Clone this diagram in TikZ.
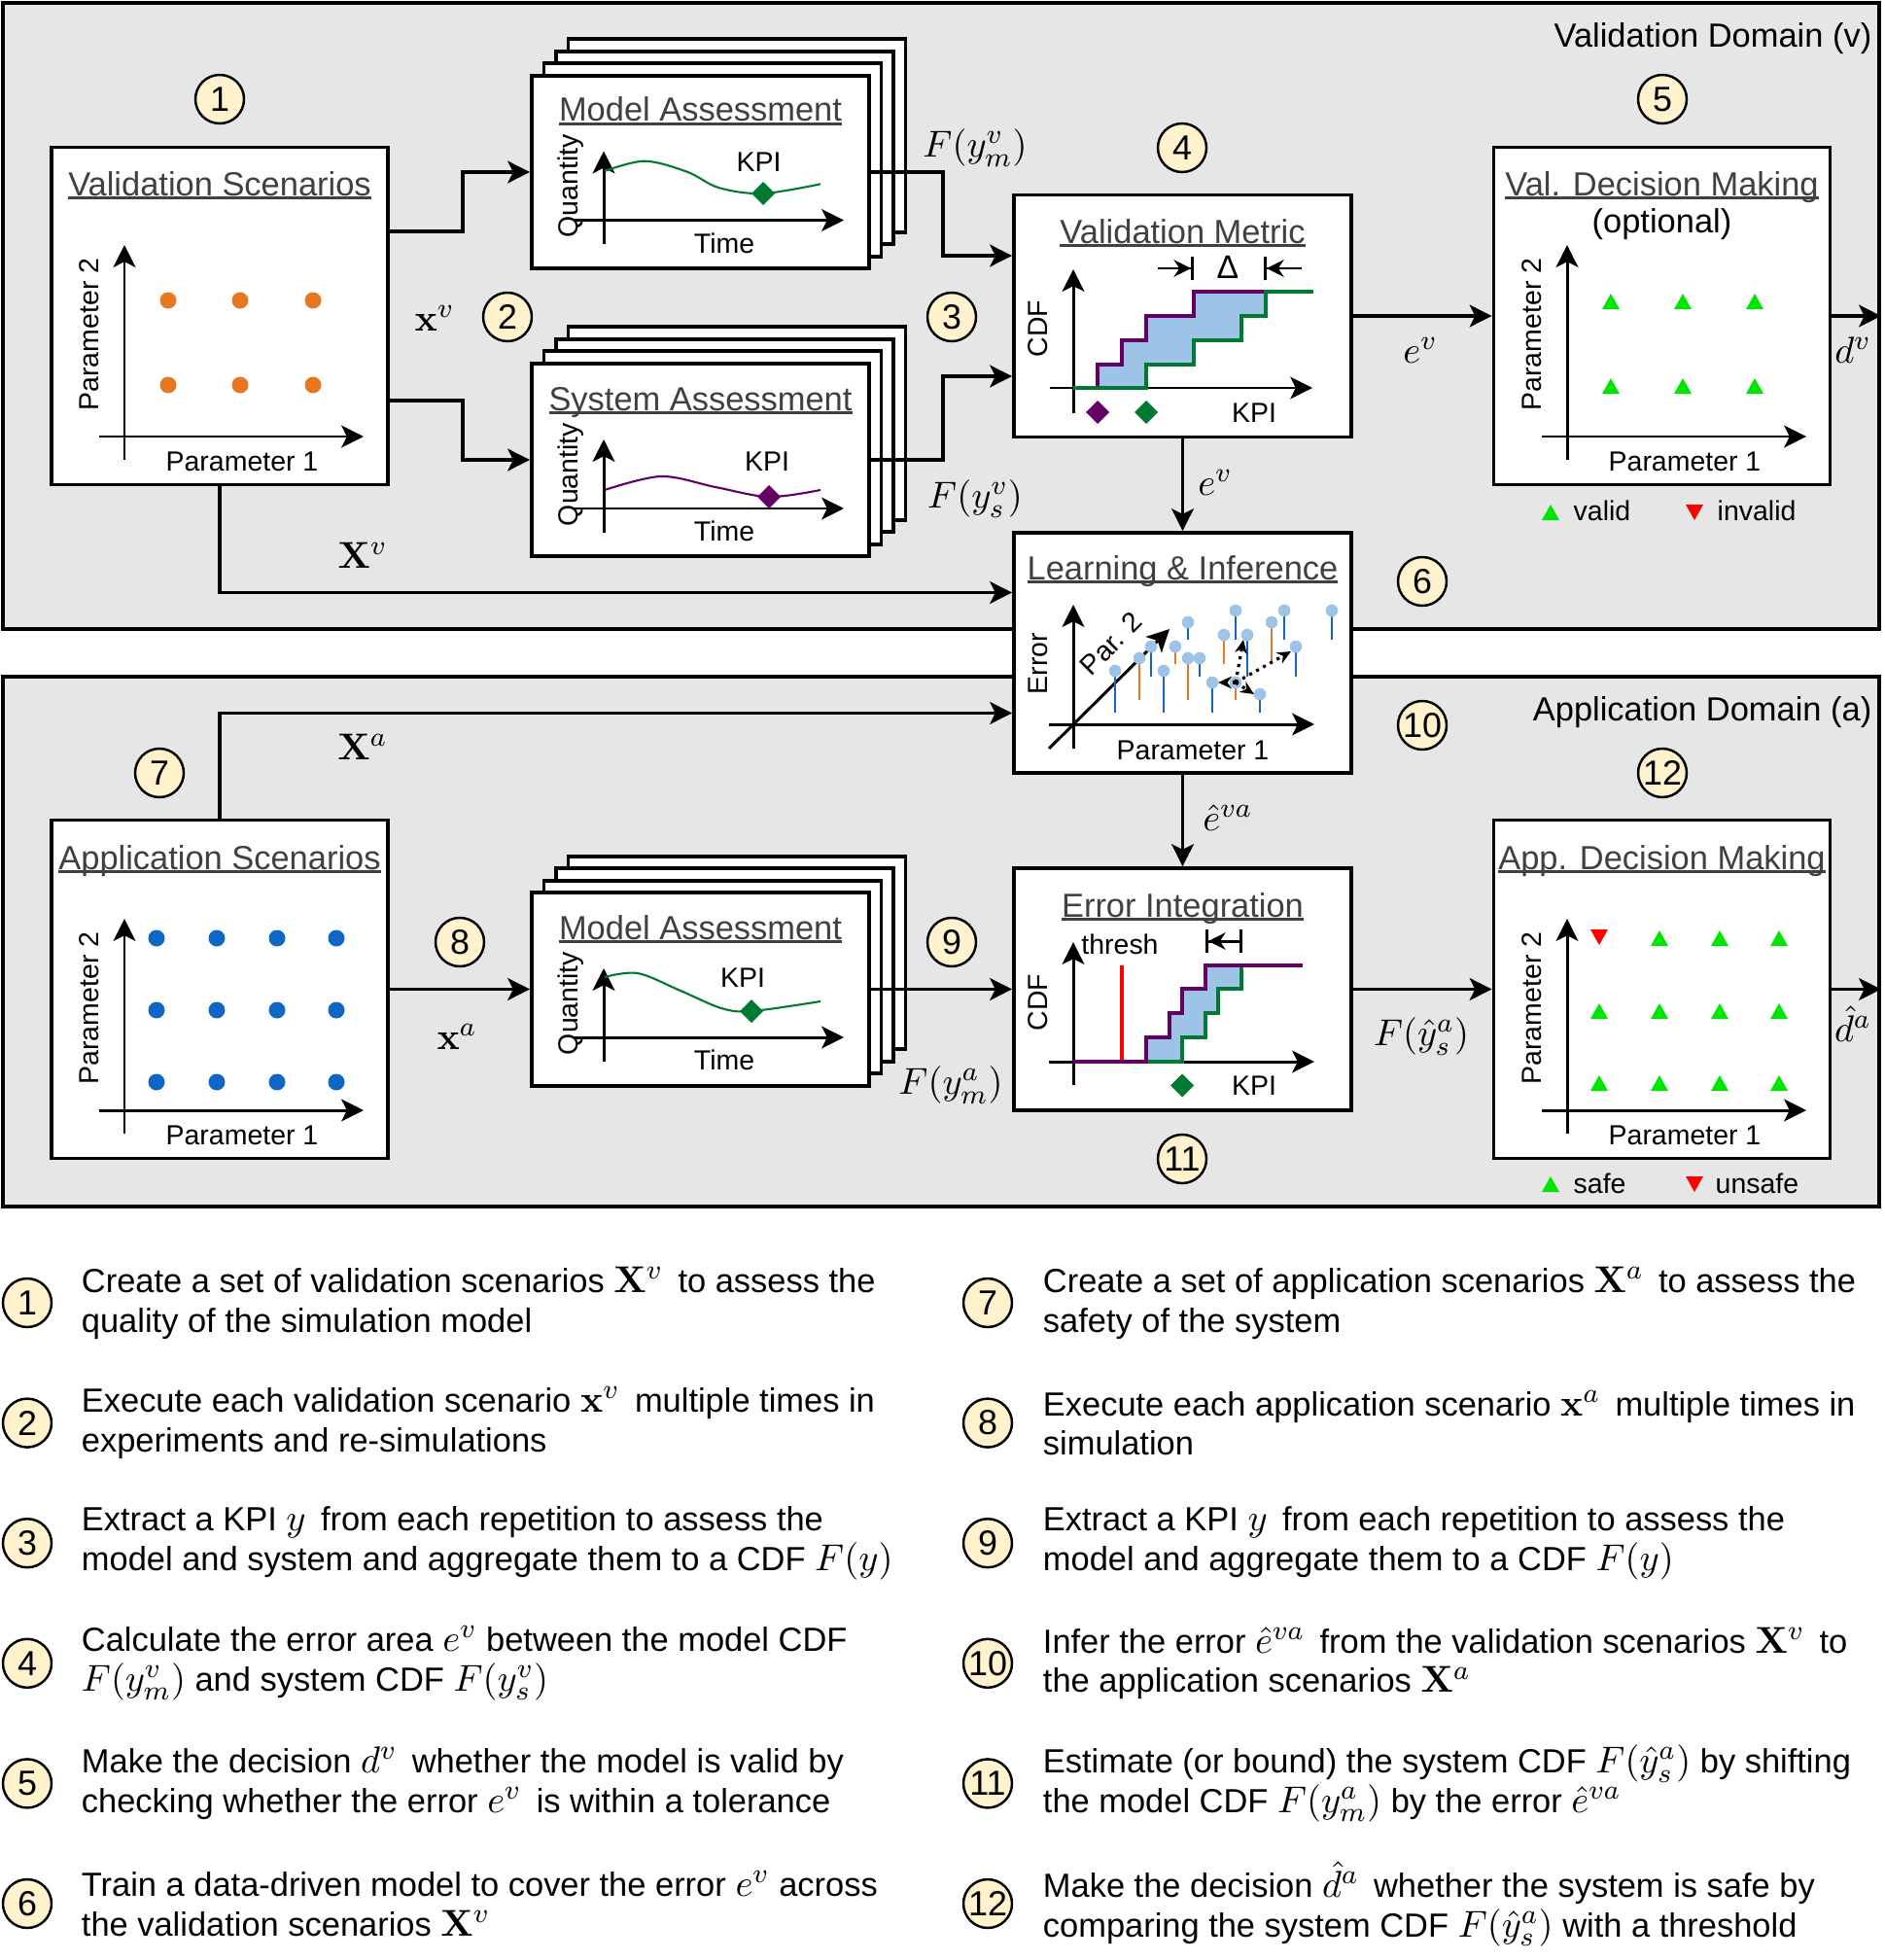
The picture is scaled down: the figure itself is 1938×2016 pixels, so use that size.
\documentclass[tikz,border=0pt]{standalone}
\usepackage[no-math]{fontspec}
\setmainfont{Liberation Sans}
\usepackage{amsmath}
\usetikzlibrary{positioning, arrows.meta}

\definecolor{domaingray}{HTML}{E6E6E6}
\definecolor{numyellow}{HTML}{FFF2CC}
\definecolor{titlegray}{HTML}{404040}
\definecolor{kpigreen}{HTML}{007A33}
\definecolor{kpipurple}{HTML}{640064}
\definecolor{areablue}{HTML}{9DC3E6}
\definecolor{dotorange}{HTML}{E87722}
\definecolor{dotblue}{HTML}{0F67C5}
\definecolor{stemblue}{HTML}{1565C0}
\definecolor{trigreen}{HTML}{00E600}
\definecolor{trired}{HTML}{FF0000}

\newcommand{\titlefont}{\fontsize{9.8}{11.8}\selectfont}
\newcommand{\smallfont}{\fontsize{8.1}{9.7}\selectfont}
\newcommand{\numfont}{\fontsize{10.2}{12}\selectfont}
\newcommand{\labelfont}{\fontsize{11.4}{13.7}\selectfont}
\newcommand{\legendfont}{\fontsize{9.8}{11.6}\selectfont}
\newcommand{\lgm}[1]{{\fontsize{10.8}{11.6}\selectfont$#1$}}
\newcommand{\titleline}[1]{\setbox0\hbox{#1}\rlap{\copy0}\rule[-1.1pt]{\wd0}{0.9pt}}

\begin{document}
\begin{tikzpicture}[x=0.1mm, y=-0.1mm,
    > = {Stealth[length=6.5pt, width=6.5pt, inset=1.6pt]},
    box/.style = {draw, fill=white, line width=1.1pt, inner sep=0pt},
    domainbox/.style = {draw, fill=domaingray, line width=1.1pt, inner sep=0pt},
    num/.style = {draw, circle, fill=numyellow, line width=0.7pt,
        minimum size=5mm, inner sep=0pt, font=\numfont},
    boxtitle/.style = {anchor=base, inner sep=0pt, font=\titlefont, text=titlegray},
    lbl/.style = {inner sep=0pt, font=\smallfont},
    sym/.style = {inner sep=0pt, font=\labelfont},
    legendtext/.style = {inner sep=0pt, align=left, font=\legendfont},
    axisline/.style = {line width=0.85pt, ->},
    flow/.style = {line width=0.9pt, ->},
    kpicurve/.style = {line width=0.6pt},
    stairs/.style = {line width=0.95pt},
    delta/.style = {line width=0.85pt}
]
    \useasboundingbox (0,0) rectangle (1938,2016);

    % domains
    \node [domainbox, minimum width=193mm, minimum height=64.4mm] (valdom) at (968,325) {};
    \node [domainbox, minimum width=193mm, minimum height=54.5mm] (appdom) at (968,968.5) {};
    \node [anchor=east, inner sep=0pt, font=\titlefont] (valdomtext) at (1926,40) {Validation Domain (v)};
    \node [anchor=east, inner sep=0pt, font=\titlefont] (appdomtext) at (1926,733) {Application Domain (a)};

    % boxes
    \node [box, minimum width=34.6mm, minimum height=34.7mm] (vs) at (226,325) {};
    \node [box, minimum width=34.6mm, minimum height=34.7mm] (vd) at (1709.5,325) {};
    \node [box, minimum width=34.6mm, minimum height=34.8mm] (as) at (226,1017.5) {};
    \node [box, minimum width=34.6mm, minimum height=34.8mm] (ad) at (1709.5,1017.5) {};
    \node [box, minimum width=34.7mm, minimum height=24.9mm] (vm) at (1216.5,325) {};
    \node [box, minimum width=34.7mm, minimum height=24.7mm] (li) at (1216.5,671.5) {};
    \node [box, minimum width=34.7mm, minimum height=24.9mm] (ei) at (1216.5,1017.5) {};
    \foreach \cx/\cy/\nm in {720.5/177/ma, 720.5/473/sa, 720.5/1017.5/mb} {
        \foreach \k in {3,2,1}
            \draw [box] (\cx-173.5+12.5*\k, \cy-99.25-12.5*\k) rectangle ++(347,198.5);
        \node [box, minimum width=34.7mm, minimum height=19.85mm] (\nm) at (\cx,\cy) {};
    }

    % titles
    \node [boxtitle] (vstitle) at (226,201) {\titleline{Validation Scenarios}};
    \node [boxtitle] (astitle) at (226,894) {\titleline{Application Scenarios}};
    \node [boxtitle] (vdtitle) at (1709.5,201) {\titleline{Val. Decision Making}};
    \node [inner sep=0pt, font=\titlefont] (vdoptional) at (1709.5,231) {(optional)};
    \node [boxtitle] (adtitle) at (1709.5,894) {\titleline{App. Decision Making}};
    \node [boxtitle] (vmtitle) at (1216.5,250) {\titleline{Validation Metric}};
    \node [boxtitle] (lititle) at (1216.5,596) {\titleline{Learning \& Inference}};
    \node [boxtitle] (eititle) at (1216.5,943) {\titleline{Error Integration}};
    \node [boxtitle] (matitle) at (720.5,125) {\titleline{Model Assessment}};
    \node [boxtitle] (satitle) at (720.5,422) {\titleline{System Assessment}};
    \node [boxtitle] (mbtitle) at (720.5,966) {\titleline{Model Assessment}};

    % scenario and decision plots
    \foreach \bx/\by/\nm in {53/151/vs, 1537/151/vd, 53/844/as, 1537/844/ad} {
        \begin{scope}[shift={(\bx,\by)}]
            \draw [axisline] (75,322) -- (75,101);
            \draw [axisline] (49,298) -- (321,298);
            \node [lbl, rotate=90] (\nm-par2) at (39,193) {Parameter 2};
            \node [lbl] (\nm-par1) at (196,324) {Parameter 1};
        \end{scope}
    }
    \foreach \px in {120,194,269}
        \foreach \py in {158,245}
            \fill [dotorange] (53+\px,151+\py) circle [radius=8.5];
    \foreach \px in {108,170,232,293}
        \foreach \py in {121,195,269}
            \fill [dotblue] (53+\px,844+\py) circle [radius=8.5];
    \foreach \px in {120,194,268}
        \foreach \py in {159,246}
            \fill [trigreen] (1537+\px-9,151+\py+8) -- ++(18,0) -- ++(-9,-16) -- cycle;
    \foreach \px/\py in {170/121, 232/121, 293/121, 108/196, 170/196, 232/196,
                         293/196, 108/270, 170/270, 232/270, 293/270}
        \fill [trigreen] (1537+\px-9,844+\py+8) -- ++(18,0) -- ++(-9,-16) -- cycle;
    \fill [trired] (1537+108-9,844+120-8) -- ++(18,0) -- ++(-9,16) -- cycle;

    % legends of the decisions
    \fill [trigreen] (1595-9,527+8) -- ++(18,0) -- ++(-9,-16) -- cycle;
    \node [lbl, anchor=west] (validtext) at (1618,525) {valid};
    \fill [trired] (1743-9,527-8) -- ++(18,0) -- ++(-9,16) -- cycle;
    \node [lbl, anchor=west] (invalidtext) at (1766,525) {invalid};
    \fill [trigreen] (1595-9,1218+8) -- ++(18,0) -- ++(-9,-16) -- cycle;
    \node [lbl, anchor=west] (safetext) at (1618,1217) {safe};
    \fill [trired] (1743-9,1218-8) -- ++(18,0) -- ++(-9,16) -- cycle;
    \node [lbl, anchor=west] (unsafetext) at (1764,1217) {unsafe};

    % assessment plots
    \foreach \ty/\nm in {77.5/ma, 374/sa, 918/mb} {
        \begin{scope}[shift={(547,\ty)}]
            \draw [axisline] (74,173.5) -- (74,78);
            \draw [axisline] (43,149) -- (321,149);
            \node [lbl, rotate=90] (\nm-qty) at (40,114) {Quantity};
            \node [lbl] (\nm-time) at (198,172.5) {Time};
        \end{scope}
    }
    \draw [kpigreen, kpicurve] plot [smooth, tension=0.55] coordinates
        {(622,176) (663,165.7) (706.7,176.7) (740,193.3) (785,199) (844,189.3)};
    \draw [kpipurple, kpicurve] plot [smooth, tension=0.55] coordinates
        {(622,504) (680,490) (736,501) (791,511) (844,504)};
    \draw [kpigreen, kpicurve] plot [smooth, tension=0.55] coordinates
        {(622,1005) (656,1001) (700,1019) (742,1037) (773,1040) (844,1030)};
    \node [lbl] (ma-kpi) at (780.5,166.5) {KPI};
    \node [lbl] (sa-kpi) at (789,475) {KPI};
    \node [lbl] (mb-kpi) at (764,1006) {KPI};

    % validation metric
    \draw [axisline] (1104,425) -- (1104,277);
    \draw [axisline] (1080,399) -- (1350,399);
    \node [lbl, rotate=90] (vm-cdf) at (1068,338) {CDF};
    \fill [areablue] (1129,399) |- (1154,375) |- (1179,350) |- (1228,325) |- (1302,300)
        -- (1302,325) -| (1277,350) -| (1228,375) -| (1179,399) -- cycle;
    \draw [kpipurple, stairs] (1129,399) |- (1154,375) |- (1179,350) |- (1228,325) |- (1302,300);
    \draw [kpigreen, stairs] (1104,399) -- (1179,399) |- (1228,375) |- (1277,350) |- (1302,325) |- (1351,300);
    \draw [delta, -{Stealth[length=5pt, width=5pt] Bar[width=7pt]}] (1191,276) -- (1228,276);
    \node [inner sep=0pt, font=\fontsize{9.6}{10}\selectfont] (vm-delta) at (1263,275) {Δ};
    \draw [delta, {Bar[width=7pt] Stealth[length=5pt, width=5pt]}-] (1300,276) -- (1339,276);
    \node [lbl] (vm-kpi) at (1290,425) {KPI};

    % learning and inference
    \draw [axisline] (1104,770) -- (1104,622);
    \draw [axisline] (1079,745) -- (1352,745);
    \draw [axisline] (1079,770) -- (1203,647);
    \node [lbl, rotate=90] (li-err) at (1067.5,682.5) {Error};
    \node [lbl, rotate=45] (li-par2) at (1143,662) {Par. 2};
    \node [lbl] (li-par1) at (1227,772) {Parameter 1};
    \foreach \sx/\sy/\sb/\sc in {
        1147/690/733/stemblue, 1172/677/720/dotorange, 1184/665/696/stemblue,
        1197/690/733/stemblue, 1209/665/683/dotorange, 1222/640/658/stemblue,
        1222/677/720/dotorange, 1234/677/696/stemblue, 1247/702/733/stemblue,
        1259/653/683/dotorange, 1271/628/658/stemblue, 1271/702/720/dotorange,
        1283/653/696/stemblue, 1296/714/733/stemblue, 1308/640/683/dotorange,
        1321/628/658/stemblue, 1333/665/696/stemblue, 1370/628/658/stemblue} {
        \draw [\sc, line width=0.75pt] (\sx,\sb) -- (\sx,\sy);
        \fill [areablue] (\sx,\sy) circle [radius=6.3];
    }
    \foreach \tx/\ty in {1279/658, 1328/670, 1253/702, 1290/714}
        \draw [line width=0.9pt, dash pattern=on 0.9pt off 1.4pt,
            -{Stealth[length=4pt, width=3.6pt]}] (1271,702) -- (\tx,\ty);

    % error integration
    \draw [axisline] (1104,1116) -- (1104,969);
    \draw [axisline] (1079,1092) -- (1352,1092);
    \node [lbl, rotate=90] (ei-cdf) at (1067.5,1031) {CDF};
    \node [lbl] (ei-thresh) at (1152,971) {thresh};
    \draw [delta, {Bar[width=7pt] Stealth[length=5pt, width=5pt]}-{Bar[width=7pt]}] (1240,968) -- (1278,968);
    \draw [trired, line width=0.95pt] (1154,993) -- (1154,1092);
    \fill [areablue] (1179,1092) |- (1203,1067) |- (1216,1042) |- (1240,1017) |- (1277,993)
        -- (1277,1017) -| (1253,1042) -| (1240,1067) -| (1216,1092) -- cycle;
    \draw [kpigreen, stairs] (1179,1092) -- (1216,1092) |- (1240,1067) |- (1253,1042) |- (1277,1017) -- (1277,993);
    \draw [kpipurple, stairs] (1104,1092) -- (1179,1092) |- (1203,1067) |- (1216,1042) |- (1240,1017) |- (1340,993);
    \node [lbl] (ei-kpi) at (1290,1116.5) {KPI};

    % diamonds
    \foreach \dx/\dy/\dc in {785/199/kpigreen, 791/511/kpipurple, 773/1040/kpigreen,
                             1129/424/kpipurple, 1179/424/kpigreen, 1216/1116.5/kpigreen}
        \fill [\dc] (\dx,\dy-12) -- ++(12,12) -- ++(-12,12) -- ++(-12,-12) -- cycle;

    % step numbers
    \node [num] (n1) at (226,102) {1};
    \node [num] (n2) at (522,326) {2};
    \node [num] (n3) at (979,326) {3};
    \node [num] (n4) at (1216,152) {4};
    \node [num] (n5) at (1710,102) {5};
    \node [num] (n6) at (1463,598) {6};
    \node [num] (n7) at (164,795) {7};
    \node [num] (n8) at (473,969) {8};
    \node [num] (n9) at (979,969) {9};
    \node [num] (n10) at (1463,746) {10};
    \node [num] (n11) at (1216,1192) {11};
    \node [num] (n12) at (1710,795) {12};

    % flows
    \draw [flow] ([yshift=8.7mm]vs.east) -- ++(75,0) |- (ma.west);
    \draw [flow] ([yshift=-8.7mm]vs.east) -- ++(75,0) |- (sa.west);
    \draw [flow] (vs.south) |- ([yshift=6.2mm]li.west);
    \draw [flow] (ma.east) -- ++(74,0) |- ([yshift=6.2mm]vm.west);
    \draw [flow] (sa.east) -- ++(74,0) |- ([yshift=-6.2mm]vm.west);
    \draw [flow] (vm.east) -- (vd.west);
    \draw [flow] (vd.east) -- (vd.east -| valdom.east);
    \draw [flow] (vm.south) -- (li.north);
    \draw [flow] (as.north) |- ([yshift=-6.2mm]li.west);
    \draw [flow] (as.east) -- (mb.west);
    \draw [flow] (mb.east) -- (ei.west);
    \draw [flow] (li.south) -- (ei.north);
    \draw [flow] (ei.east) -- (ad.west);
    \draw [flow] (ad.east) -- (ad.east -| appdom.east);

    % flow labels
    \node [sym] (xv) at (447,327) {$\mathbf{x}^v$};
    \node [sym] (Xv) at (373,571) {$\mathbf{X}^v$};
    \node [sym] (Fmv) at (1003,152) {$F(y^v_m)$};
    \node [sym] (Fsv) at (1003,513) {$F(y^v_s)$};
    \node [sym] (ev) at (1461,360) {$e^v$};
    \node [sym] (dv) at (1906,360) {$d^v$};
    \node [sym] (evli) at (1250,496) {$e^v$};
    \node [sym] (Xa) at (373,768) {$\mathbf{X}^a$};
    \node [sym] (xa) at (470,1066) {$\mathbf{x}^a$};
    \node [sym] (Fma) at (978,1116) {$F(y^a_m)$};
    \node [sym] (eva) at (1263,841) {$\hat{e}^{va}$};
    \node [sym] (Fsa) at (1462,1066) {$F(\hat{y}^a_s)$};
    \node [sym] (da) at (1906,1053) {$\hat{d}^a$};

    % legend
    \node [num] (lg1) at (28,1340) {1};
    \node [num] (lg2) at (28,1463.6) {2};
    \node [num] (lg3) at (28,1587.2) {3};
    \node [num] (lg4) at (28,1710.8) {4};
    \node [num] (lg5) at (28,1834.4) {5};
    \node [num] (lg6) at (28,1958) {6};
    \node [num] (lg7) at (1016,1340) {7};
    \node [num] (lg8) at (1016,1463.6) {8};
    \node [num] (lg9) at (1016,1587.2) {9};
    \node [num] (lg10) at (1016,1710.8) {10};
    \node [num] (lg11) at (1016,1834.4) {11};
    \node [num] (lg12) at (1016,1958) {12};
    \node [legendtext, right=2.9mm of lg1] (lgtext1)
        {Create a set of validation scenarios \lgm{\mathbf{X}^v}\, to assess the\\quality of the simulation model};
    \node [legendtext, right=2.9mm of lg2] (lgtext2)
        {Execute each validation scenario \lgm{\mathbf{x}^v}\, multiple times in\\experiments and re-simulations};
    \node [legendtext, right=2.9mm of lg3] (lgtext3)
        {Extract a KPI \lgm{y}\, from each repetition to assess the\\model and system and aggregate them to a CDF \lgm{F(y)}};
    \node [legendtext, right=2.9mm of lg4] (lgtext4)
        {Calculate the error area \lgm{e^v} between the model CDF\\\lgm{F(y^v_m)} and system CDF \lgm{F(y^v_s)}};
    \node [legendtext, right=2.9mm of lg5] (lgtext5)
        {Make the decision \lgm{d^v}\, whether the model is valid by\\checking whether the error \lgm{e^v}\, is within a tolerance};
    \node [legendtext, right=2.9mm of lg6] (lgtext6)
        {Train a data-driven model to cover the error \lgm{e^v} across\\the validation scenarios \lgm{\mathbf{X}^v}};
    \node [legendtext, right=3mm of lg7] (lgtext7)
        {Create a set of application scenarios \lgm{\mathbf{X}^a}\, to assess the\\safety of the system};
    \node [legendtext, right=3mm of lg8] (lgtext8)
        {Execute each application scenario \lgm{\mathbf{x}^a}\, multiple times in\\simulation};
    \node [legendtext, right=3mm of lg9] (lgtext9)
        {Extract a KPI \lgm{y}\, from each repetition to assess the\\model and aggregate them to a CDF \lgm{F(y)}};
    \node [legendtext, right=3mm of lg10] (lgtext10)
        {Infer the error \lgm{\hat{e}^{va}}\, from the validation scenarios \lgm{\mathbf{X}^v}\, to\\the application scenarios \lgm{\mathbf{X}^a}};
    \node [legendtext, right=3mm of lg11] (lgtext11)
        {Estimate (or bound) the system CDF \lgm{F(\hat{y}^a_s)} by shifting\\the model CDF \lgm{F(y^a_m)} by the error \lgm{\hat{e}^{va}}};
    \node [legendtext, right=3mm of lg12] (lgtext12)
        {Make the decision \lgm{\hat{d}^a}\, whether the system is safe by\\comparing the system CDF \lgm{F(\hat{y}^a_s)} with a threshold};
\end{tikzpicture}
\end{document}
